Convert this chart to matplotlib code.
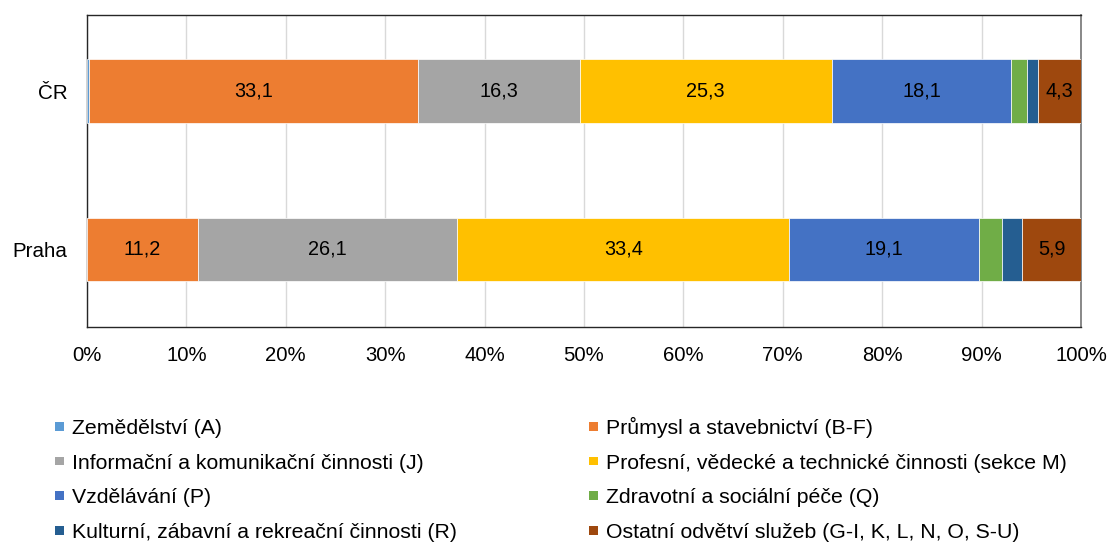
import matplotlib
matplotlib.use("Agg")
import matplotlib.pyplot as plt
import numpy as np
from matplotlib.patches import Patch, Rectangle
from matplotlib.legend_handler import HandlerPatch

plt.rcParams['font.family'] = ['Liberation Sans', 'DejaVu Sans']

categories = ['ČR', 'Praha']
series_names = [
    'Zemědělství (A)',
    'Průmysl a stavebnictví (B-F)',
    'Informační a komunikační činnosti (J)',
    'Profesní, vědecké a technické činnosti (sekce M)',
    'Vzdělávání (P)',
    'Zdravotní a sociální péče (Q)',
    'Kulturní, zábavní a rekreační činnosti (R)',
    'Ostatní odvětví služeb (G-I, K, L, N, O, S-U)',
]
zemedelstvi = [0.2, 0.0]
prumysl = [33.1, 11.2]
informacni = [16.3, 26.1]
profesni = [25.3, 33.4]
vzdelavani = [18.1, 19.1]
zdravotni = [1.6, 2.3]
kulturni = [1.1, 2.1]
ostatni = [4.3, 5.9]
colors = ['#5B9BD5', '#ED7D31', '#A5A5A5', '#FFC000', '#4472C4', '#70AD47', '#255E91', '#9E480E']

series = [zemedelstvi, prumysl, informacni, profesni, vzdelavani, zdravotni, kulturni, ostatni]
data = np.array(series, dtype=float)
totals = data.sum(axis=0)
pct = data / totals * 100

fig = plt.figure(figsize=(11.08, 5.43), dpi=100)
ax = fig.add_axes([87/1108, 1-327/543, (1081-87)/1108, (327-15)/543])

ypos = np.array([1, 0])
left = np.zeros(len(categories))
handles = []
for i, name in enumerate(series_names):
    bars = ax.barh(ypos, pct[i], left=left, height=0.4, color=colors[i],
                   edgecolor='white', linewidth=0.5, zorder=3, label=name)
    labels = [f"{v:.1f}".replace('.', ',') if v >= 3 else '' for v in data[i]]
    ax.bar_label(bars, labels=labels, label_type='center', fontsize=14.3, color='black')
    left += pct[i]
    handles.append(Patch(facecolor=colors[i], edgecolor='none', label=name))

ax.set_xlim(0, 100)
ax.set_ylim(-0.49, 1.48)
ax.set_yticks(ypos)
ax.set_yticklabels(categories, fontsize=14.8)
ax.set_xticks(np.arange(0, 101, 10))
ax.set_xticklabels([f"{v}%" for v in range(0, 101, 10)], fontsize=14.6)
ax.tick_params(axis='y', length=0, pad=14)
ax.tick_params(axis='x', length=0, pad=13.5)
ax.grid(axis='x', color='#D9D9D9', linewidth=1.0, zorder=0)
ax.set_axisbelow(True)
for s in ['top', 'left', 'bottom']:
    ax.spines[s].set_color('#262626')
    ax.spines[s].set_linewidth(1.0)
ax.spines['right'].set_color('#7F7F7F')
ax.spines['right'].set_linewidth(1.3)

LEG_FS = 15.3
SQ = 6.3  # square side in points


def square(legend, orig_handle, xdescent, ydescent, width, height, fontsize):
    yc = 0.358 * LEG_FS
    return Rectangle((-xdescent + (width - SQ) / 2, yc - SQ / 2), SQ, SQ)


hmap = {Patch: HandlerPatch(patch_func=square)}
col1 = [handles[i] for i in (0, 2, 4, 6)]
col2 = [handles[i] for i in (1, 3, 5, 7)]
leg_kw = dict(fontsize=LEG_FS, frameon=False, handlelength=0.45, handleheight=1.8,
              handletextpad=0.35, labelspacing=0.215, borderpad=0, borderaxespad=0,
              handler_map=hmap)
leg1 = fig.legend(handles=col1, loc='upper left', bbox_to_anchor=(55/1108, 1-412/543), **leg_kw)
leg2 = fig.legend(handles=col2, loc='upper left', bbox_to_anchor=(589/1108, 1-412/543), **leg_kw)

fig.savefig('out.png', dpi=100)
